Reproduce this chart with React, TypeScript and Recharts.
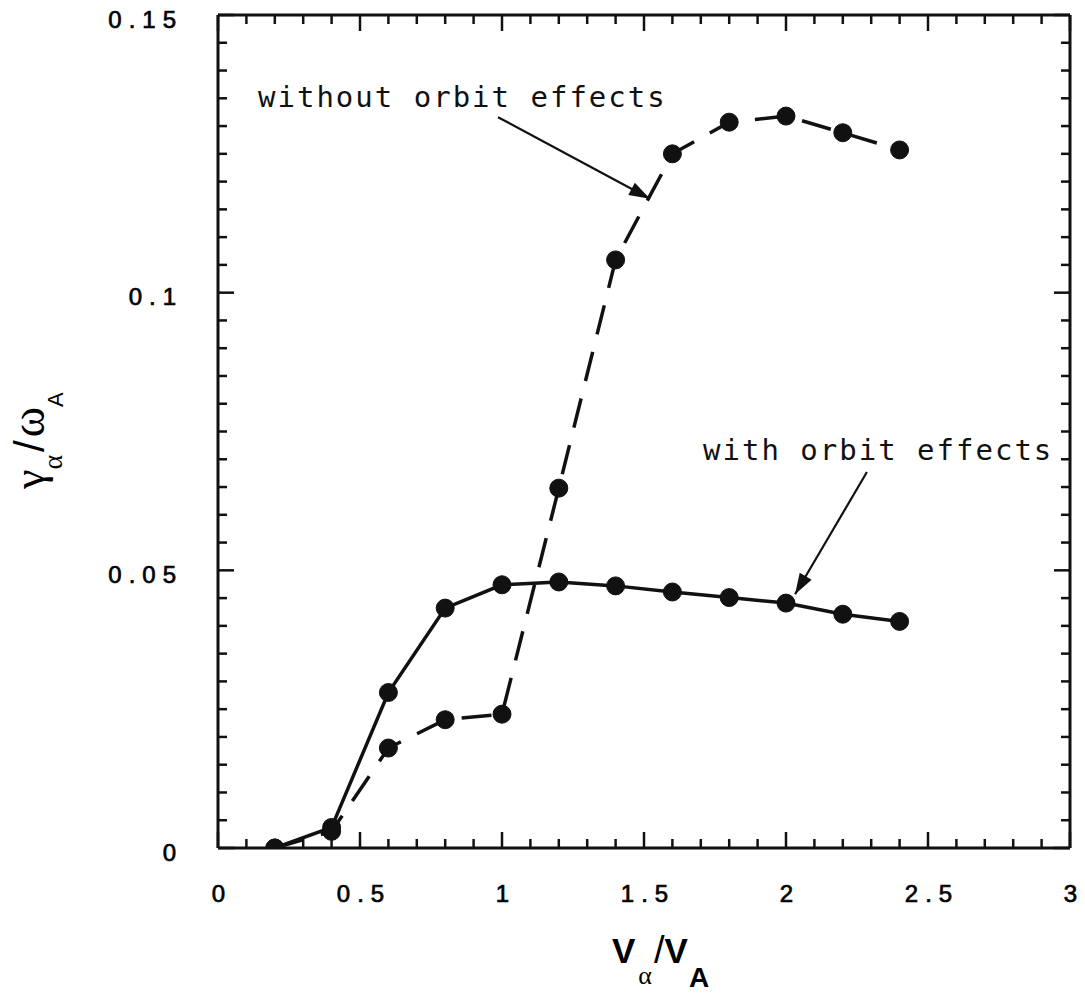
import {
    LineChart,
    Line,
    XAxis,
    YAxis,
    ReferenceLine,
    ReferenceDot,
} from "recharts"

// growth rate vs. alpha speed, with and without finite-orbit effects
const vRatio = [0.2, 0.4, 0.6, 0.8, 1.0, 1.2, 1.4, 1.6, 1.8, 2.0, 2.2, 2.4];
const withOrbit = [0, 0.0037, 0.028, 0.0432, 0.0474, 0.0479, 0.0472, 0.0461, 0.0451, 0.0441, 0.0421, 0.0408];
const withoutOrbit = [0, 0.003, 0.018, 0.0231, 0.0241, 0.0648, 0.1059, 0.125, 0.1307, 0.1318, 0.1288, 0.1257];

const xTicks = [0, 0.5, 1, 1.5, 2, 2.5, 3];
const yTicks = [0, 0.05, 0.1, 0.15];
const xMinor = Array.from({ length: 31 }, (_, i) => +(i * 0.1).toFixed(1));
const yMinor = Array.from({ length: 31 }, (_, i) => +(i * 0.005).toFixed(3));

const data = vRatio.map((v, i) => ({ v, with: withOrbit[i], without: withoutOrbit[i] }));

const INK = "#111";
const tickFont = {
    fontFamily: "'Liberation Sans', Arial, sans-serif", fontSize: 24, fill: "#000",
    stroke: "#000", strokeWidth: 0.7, letterSpacing: 7,
};
const noteFont = { fontFamily: "'DejaVu Sans Mono', monospace", fontSize: 29, fill: INK, letterSpacing: 2 };

type Side = "top" | "bottom" | "left" | "right";

// inward tick mark drawn from the frame, longer on the labelled values
const frameTick = (side: Side, majors: number[]) => (props: any) => {
    const { x, y, payload } = props;
    const len = majors.some((m) => Math.abs(m - payload.value) < 1e-9) ? 16 : 9;
    const s = { stroke: INK, strokeWidth: 2.5 };
    if (side === "bottom") return <line x1={x} y1={y} x2={x} y2={y - len} {...s} />;
    if (side === "top") return <line x1={x} y1={y} x2={x} y2={y + len} {...s} />;
    if (side === "left") return <line x1={x} y1={y} x2={x + len} y2={y} {...s} />;
    return <line x1={x} y1={y} x2={x - len} y2={y} {...s} />;
};

const Arrow = (props: any) => {
    const { x1, y1, x2, y2 } = props;
    const ang = Math.atan2(y2 - y1, x2 - x1);
    const len = 22, spread = 0.32;
    const a = [x2 - len * Math.cos(ang - spread), y2 - len * Math.sin(ang - spread)];
    const b = [x2 - len * Math.cos(ang + spread), y2 - len * Math.sin(ang + spread)];
    return (
        <g>
            <line x1={x1} y1={y1} x2={x2} y2={y2} stroke={INK} strokeWidth={2.2} />
            <polygon points={`${x2},${y2} ${a[0]},${a[1]} ${b[0]},${b[1]}`} fill={INK} />
        </g>
    );
};

const note = (text: string) => (props: any) => (
    <text x={props.cx} y={props.cy} {...noteFont}>{text}</text>
);

const XTitle = () => (
    <text x={612} y={963} fill="#000" fontFamily="'Liberation Sans', Arial, sans-serif">
        <tspan fontSize={35} fontWeight="bold">V</tspan>
        <tspan fontSize={26} fontFamily="'Liberation Serif', serif" dx={3} dy={21}>α</tspan>
        <tspan fontSize={38} dx={2} dy={-21}>/</tspan>
        <tspan fontSize={35} fontWeight="bold">V</tspan>
        <tspan fontSize={28} fontWeight="bold" dx={1} dy={24}>A</tspan>
    </text>
);

const YTitle = () => (
    <text x={44} y={489} transform="rotate(-90 44 489)" fill="#000" fontFamily="'Liberation Serif', serif">
        <tspan fontSize={44}>γ</tspan>
        <tspan fontSize={28} dy={18}>α</tspan>
        <tspan fontSize={42} fontFamily="'Liberation Sans', sans-serif" dx={3} dy={-18}>/</tspan>
        <tspan fontSize={46} dx={3}>ω</tspan>
        <tspan fontSize={22} fontFamily="'Liberation Sans', sans-serif" dy={19}>A</tspan>
    </text>
);

const frame = { stroke: INK, strokeWidth: 3 };

// mirrored axes that only carry the tick marks on the frame
const xTickAxis = { dataKey: "v", type: "number" as const, domain: [0, 3], allowDataOverflow: true, mirror: true, interval: 0, ticks: xMinor, tickLine: false, tickSize: 0, tickMargin: 0 };
const yTickAxis = { type: "number" as const, domain: [0, 0.15], allowDataOverflow: true, mirror: true, interval: 0, ticks: yMinor, tickLine: false, tickSize: 0, tickMargin: 0 };

export default function App() {
    return (
        <div style={{ position: "absolute", left: 0, top: 0, background: "#fff" }}>
            <LineChart width={1085} height={993} data={data} margin={{ top: 15, right: 15, bottom: 0, left: 0 }}>
                {/* label axes */}
                <XAxis xAxisId="b" dataKey="v" type="number" domain={[0, 3]} ticks={xTicks} allowDataOverflow
                    height={145} tickLine={false} tickSize={0} tickMargin={37} axisLine={frame}
                    tick={{ ...tickFont, dx: 4 }} interval={0} label={{ content: XTitle }} />
                <YAxis yAxisId="l" type="number" domain={[0, 0.15]} ticks={yTicks} allowDataOverflow
                    width={218} tickLine={false} tickSize={0} tickMargin={35} axisLine={frame}
                    interval={0} tick={{ ...tickFont, dy: 4 }} label={{ content: YTitle }} />

                {/* inward ticks on all four sides */}
                <XAxis xAxisId="bt" {...xTickAxis} orientation="bottom" axisLine={false} tick={frameTick("bottom", xTicks)} />
                <XAxis xAxisId="tt" {...xTickAxis} orientation="top" axisLine={frame} tick={frameTick("top", xTicks)} />
                <YAxis yAxisId="lt" {...yTickAxis} orientation="left" axisLine={false} tick={frameTick("left", yTicks)} />
                <YAxis yAxisId="rt" {...yTickAxis} orientation="right" axisLine={frame} tick={frameTick("right", yTicks)} />

                <Line xAxisId="b" yAxisId="l" dataKey="without" type="linear" stroke={INK} strokeWidth={3.5}
                    strokeDasharray="30 18" isAnimationActive={false}
                    dot={{ r: 9, fill: INK, stroke: INK, strokeWidth: 1, strokeDasharray: "none" }} />
                <Line xAxisId="b" yAxisId="l" dataKey="with" type="linear" stroke={INK} strokeWidth={3.5}
                    isAnimationActive={false}
                    dot={{ r: 9, fill: INK, stroke: INK, strokeWidth: 1 }} />

                {/* annotations */}
                <ReferenceLine xAxisId="b" yAxisId="l" segment={[{ x: 0.986, y: 0.1316 }, { x: 1.521, y: 0.1169 }]}
                    shape={Arrow} />
                <ReferenceLine xAxisId="b" yAxisId="l" segment={[{ x: 2.285, y: 0.0677 }, { x: 2.032, y: 0.0457 }]}
                    shape={Arrow} />
                <ReferenceDot xAxisId="b" yAxisId="l" x={0.141} y={0.1334} r={0} shape={note("without orbit effects")} />
                <ReferenceDot xAxisId="b" yAxisId="l" x={1.708} y={0.0699} r={0} shape={note("with orbit effects")} />
            </LineChart>
        </div>
    )
}
